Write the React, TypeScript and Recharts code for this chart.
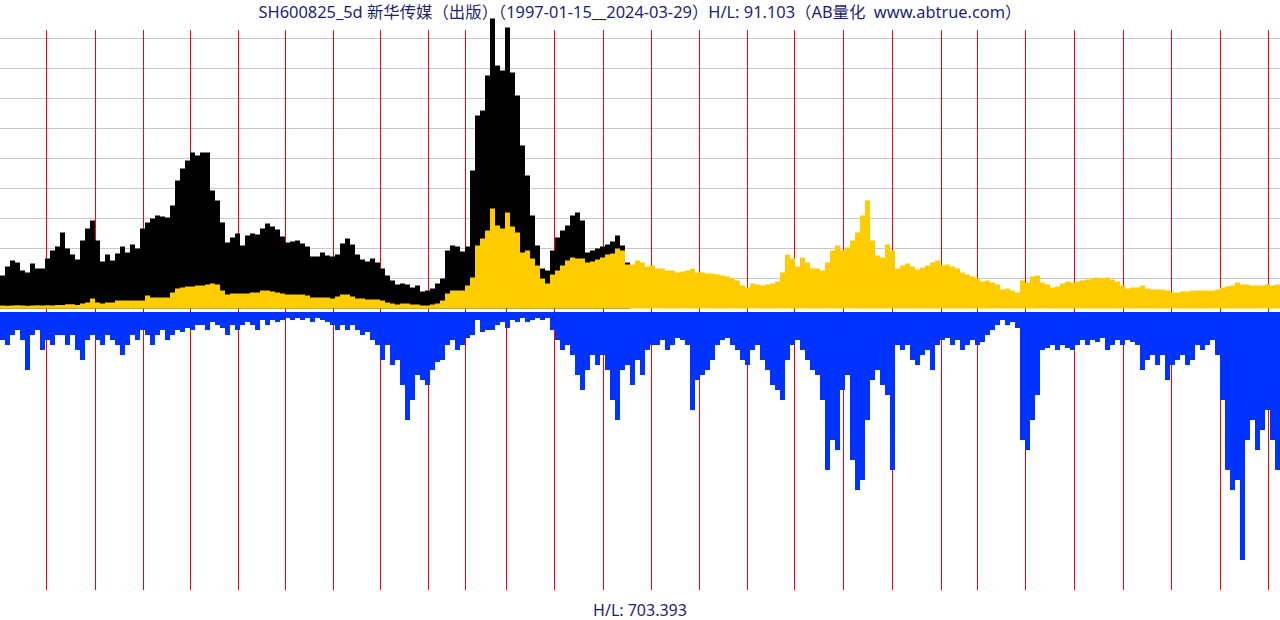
import { ComposedChart, Area, XAxis, YAxis, ReferenceLine } from "recharts";

// weekly samples, one per 5px column; price = high (black) / adjusted close (yellow)
const priceHigh = [
  11.0, 14.0, 16.0, 15.3, 12.7, 12.0, 15.0, 13.3, 13.3, 16.7,
  19.3, 20.7, 25.3, 20.0, 18.0, 16.3, 22.7, 26.7, 29.3, 22.7,
  15.7, 18.0, 16.0, 18.3, 20.7, 18.7, 21.3, 20.0, 26.7, 28.7,
  30.0, 31.0, 30.7, 30.3, 34.3, 42.7, 46.7, 49.3, 52.0, 51.0,
  52.0, 52.0, 39.3, 36.0, 28.7, 22.0, 23.7, 25.0, 21.0, 24.3,
  25.0, 24.7, 26.7, 28.3, 27.3, 26.3, 24.0, 22.0, 22.3, 22.7,
  21.7, 20.7, 17.3, 17.3, 18.7, 17.7, 17.3, 18.0, 21.7, 23.3,
  21.3, 18.0, 16.3, 15.7, 16.7, 15.3, 13.3, 11.0, 9.3, 8.0,
  8.3, 8.0, 7.0, 7.7, 5.7, 6.0, 6.7, 8.3, 10.0, 19.3,
  21.0, 20.7, 19.0, 20.7, 46.0, 64.3, 66.0, 77.7, 96.7, 81.0,
  79.3, 93.7, 78.7, 71.0, 54.3, 44.3, 31.0, 21.0, 13.3, 12.7,
  19.3, 23.7, 26.0, 27.7, 31.0, 32.0, 29.3, 18.7, 19.3, 20.0,
  20.7, 21.3, 22.3, 24.3, 21.0, 15.3, 15.0,
];

const priceClose = [
  1.0, 0.9, 1.0, 1.1, 1.0, 0.9, 1.0, 1.1, 1.0, 1.1,
  1.0, 1.2, 1.2, 1.4, 1.4, 1.2, 1.7, 2.0, 3.3, 2.0,
  1.7, 2.0, 2.0, 2.7, 2.7, 2.7, 2.7, 2.7, 2.7, 4.3,
  3.7, 3.7, 3.7, 3.7, 5.3, 6.7, 7.0, 7.3, 7.3, 7.7,
  7.7, 8.0, 8.3, 8.0, 6.0, 4.7, 5.0, 5.0, 5.0, 5.0,
  5.3, 5.3, 6.0, 6.0, 5.7, 5.3, 5.0, 4.7, 4.7, 4.7,
  4.7, 4.3, 3.7, 3.7, 3.7, 3.7, 3.3, 4.0, 4.7, 4.7,
  4.0, 3.3, 3.3, 3.0, 3.0, 3.0, 2.7, 2.0, 1.7, 1.3,
  1.7, 1.7, 1.3, 1.3, 1.0, 1.0, 1.3, 1.7, 2.7, 5.0,
  6.0, 6.0, 6.0, 7.7, 10.3, 21.0, 23.3, 26.0, 33.3, 27.7,
  26.7, 32.0, 27.3, 25.3, 18.7, 19.3, 16.7, 14.3, 10.0, 8.3,
  11.3, 12.7, 14.3, 16.0, 17.0, 16.7, 16.7, 15.3, 15.7, 16.3,
  17.0, 18.0, 18.3, 20.0, 19.3, 14.7, 14.7, 16.0, 15.3, 14.0,
  14.3, 13.3, 13.3, 12.7, 12.7, 12.0, 12.3, 12.7, 13.3, 12.0,
  12.0, 11.7, 11.7, 11.3, 11.0, 10.7, 10.0, 9.3, 7.7, 7.0,
  8.3, 8.0, 7.7, 8.0, 8.3, 9.0, 12.0, 18.0, 16.7, 14.0,
  17.0, 15.3, 13.3, 13.3, 12.7, 15.3, 19.3, 21.0, 19.3, 20.3,
  22.7, 25.3, 31.0, 36.0, 22.7, 17.7, 17.0, 21.3, 19.3, 13.3,
  14.3, 15.0, 14.0, 13.0, 13.7, 14.3, 15.3, 16.0, 14.3, 14.7,
  14.0, 13.3, 12.0, 11.3, 10.7, 10.0, 9.0, 9.3, 8.7, 8.0,
  6.3, 6.7, 6.0, 5.3, 9.3, 8.7, 10.7, 11.0, 8.7, 8.0,
  7.0, 7.3, 8.3, 9.0, 8.7, 9.0, 9.3, 9.7, 10.0, 10.3,
  10.0, 10.3, 9.7, 9.0, 7.7, 6.7, 7.0, 7.0, 7.7, 6.7,
  6.3, 6.3, 6.3, 6.0, 5.3, 5.3, 5.7, 5.7, 6.0, 6.0,
  6.0, 6.0, 6.0, 6.3, 7.0, 7.3, 7.7, 8.7, 8.0, 8.0,
  7.7, 7.7, 7.7, 8.0, 7.7, 8.0,
];

const volume = [
  9.3, 11.0, 7.7, 6.0, 9.3, 19.3, 7.7, 6.0, 12.7, 9.3,
  11.0, 7.7, 7.7, 11.0, 7.7, 12.7, 16.0, 9.3, 7.7, 9.3,
  11.0, 7.7, 9.3, 11.0, 14.3, 11.0, 7.7, 9.3, 6.0, 7.7,
  11.0, 7.7, 6.0, 9.3, 7.7, 6.0, 6.7, 5.3, 6.0, 4.3,
  4.3, 6.0, 3.3, 4.3, 5.3, 7.7, 4.3, 6.0, 4.3, 3.3,
  4.3, 6.0, 2.7, 4.3, 2.7, 3.3, 2.7, 2.0, 2.7, 2.0,
  2.7, 2.0, 3.3, 2.0, 2.7, 3.3, 4.3, 6.0, 4.3, 6.0,
  4.3, 6.0, 7.7, 6.7, 9.3, 11.0, 16.0, 11.0, 17.7, 16.0,
  24.3, 36.0, 29.3, 21.0, 22.7, 24.3, 19.3, 16.7, 16.0, 11.0,
  9.3, 12.7, 11.0, 8.7, 7.7, 2.7, 6.7, 6.0, 6.0, 4.3,
  3.3, 5.3, 2.7, 3.3, 2.0, 3.3, 2.7, 2.0, 2.7, 2.0,
  6.0, 9.3, 12.7, 11.0, 14.3, 21.0, 26.0, 19.3, 14.3, 17.7,
  14.3, 19.3, 29.3, 36.0, 19.3, 17.7, 24.3, 16.0, 21.0, 12.7,
  11.0, 11.0, 9.3, 12.7, 11.0, 8.7, 9.3, 11.0, 32.7, 22.7,
  21.0, 19.3, 16.0, 11.0, 9.3, 8.7, 11.0, 12.7, 16.0, 17.7,
  12.7, 11.0, 16.0, 19.3, 24.3, 26.0, 29.3, 16.0, 11.0, 9.3,
  12.7, 16.0, 19.3, 21.0, 29.3, 52.7, 42.7, 46.0, 26.0, 21.0,
  49.3, 59.3, 56.0, 36.0, 22.7, 19.3, 24.3, 27.7, 52.7, 11.0,
  12.7, 11.0, 16.0, 17.7, 14.3, 12.7, 19.3, 11.0, 9.3, 8.7,
  11.0, 9.3, 12.7, 11.0, 9.3, 11.0, 10.0, 7.7, 6.0, 4.3,
  2.7, 4.3, 3.3, 5.3, 42.7, 46.0, 36.0, 27.7, 12.7, 12.0,
  11.0, 12.7, 11.0, 12.0, 12.7, 11.0, 9.3, 11.0, 9.3, 10.0,
  8.7, 12.7, 11.0, 9.3, 11.0, 9.3, 10.0, 11.0, 19.3, 16.0,
  14.3, 17.7, 14.3, 22.7, 17.7, 16.0, 14.3, 17.7, 16.0, 11.0,
  12.7, 11.0, 9.3, 14.3, 29.3, 52.7, 59.3, 56.0, 82.7, 42.7,
  36.0, 46.0, 39.3, 32.7, 42.7, 52.7,
];

// first week of each year, in sample units
const yearStarts = [
  9.3, 19.1, 28.7, 38.1, 47.7, 57.1, 66.7, 76.1, 85.7, 93.1,
  101.3, 110.9, 120.7, 130.3, 139.9, 149.5, 158.9, 168.7, 178.5, 188.3,
  195.5, 205.1, 214.9, 224.7, 234.3, 244.1, 253.7,
];
const years = [
  "1998", "1999", "2000", "2001", "2002", "2003", "2004", "2005", "2006", "2007",
  "2008", "2009", "2010", "2011", "2012", "2013", "2014", "2015", "2016", "2017",
  "2018", "2019", "2020", "2021", "2022", "2023", "2024",
];
const priceGrid = [10, 20, 30, 40, 50, 60, 70, 80, 90];

const title = "SH600825_5d 新华传媒（出版）（1997-01-15__2024-03-29）H/L: 91.103（AB量化  www.abtrue.com）";
const volumeNote = "H/L: 703.393";

const N = priceClose.length;
const rows = Array.from({ length: N + 1 }, (_, i) => {
  const j = Math.min(i, N - 1);
  return {
    x: i,
    high: i < priceHigh.length ? priceHigh[i] : null,
    close: priceClose[j],
    vol: volume[j],
  };
});

const W = 1280;
const H = 620;
const PLOT_H = 613;
// price axis: 0 sits at y=308.5, 3px per unit; volume axis: 0 at y=312, 3px per unit
const P_BASE = 308.5;
const V_BASE = 312;
const K = 3;
const pDomain = [(P_BASE - PLOT_H) / K, P_BASE / K];
const vDomain = [-V_BASE / K, (PLOT_H - V_BASE) / K];
const lineTop = (P_BASE - 30) / K;
const lineBottom = (P_BASE - 590) / K;

const textFont = '"Noto Sans", "Noto Sans CJK SC", sans-serif';

export default function App() {
  return (
    <div style={{ position: "absolute", left: 0, top: 0, width: W, height: H, background: "#fff" }}>
      <ComposedChart width={W} height={H} data={rows} margin={{ top: 0, right: 0, bottom: H - PLOT_H, left: 0 }}>
        <XAxis dataKey="x" type="number" domain={[0, N]} hide allowDataOverflow />
        <YAxis yAxisId="p" type="number" domain={pDomain} hide allowDataOverflow />
        <YAxis yAxisId="v" type="number" domain={vDomain} reversed hide allowDataOverflow />
        {priceGrid.map((g) => (
          <ReferenceLine key={g} yAxisId="p" y={g} stroke="#c8c8c8" strokeWidth={1} zIndex={-20} />
        ))}
        {yearStarts.map((s, i) => (
          <ReferenceLine
            key={years[i]}
            yAxisId="p"
            segment={[{ x: s, y: lineTop }, { x: s, y: lineBottom }]}
            stroke="#ff0000"
            strokeWidth={1}
            zIndex={-10}
          />
        ))}
        <Area yAxisId="p" type="stepAfter" dataKey="high" baseValue={0} fill="#000000" fillOpacity={1} stroke="none" dot={false} activeDot={false} isAnimationActive={false} />
        <Area yAxisId="p" type="stepAfter" dataKey="close" baseValue={0} fill="#ffcc00" fillOpacity={1} stroke="none" dot={false} activeDot={false} isAnimationActive={false} />
        <Area yAxisId="v" type="stepAfter" dataKey="vol" baseValue={0} fill="#0033ff" fillOpacity={1} stroke="none" dot={false} activeDot={false} isAnimationActive={false} />
      </ComposedChart>
      <div style={{ position: "absolute", left: 0, top: 1, width: W, textAlign: "center", fontFamily: textFont, fontSize: 16.4, lineHeight: "22px", color: "#1e1e78", whiteSpace: "pre" }}>
        {title}
      </div>
      <div style={{ position: "absolute", left: 0, top: 599, width: W, textAlign: "center", fontFamily: textFont, fontSize: 16, lineHeight: "22px", color: "#1e1e78" }}>
        {volumeNote}
      </div>
    </div>
  );
}
